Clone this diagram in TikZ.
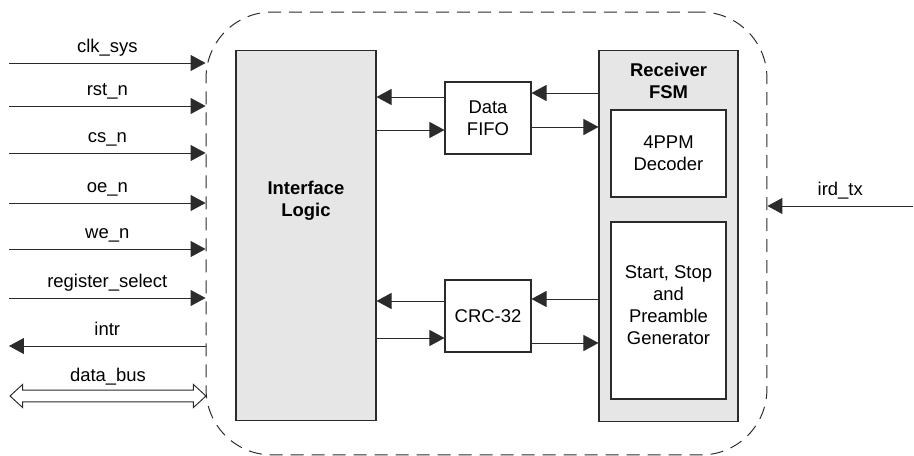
\documentclass[tikz,border=0pt]{standalone}
\usepackage{fontspec}
\setmainfont{Liberation Sans}
\usetikzlibrary{arrows.meta,positioning,shapes.arrows}
\definecolor{BoxGray}{HTML}{E6E6E7}
\definecolor{EdgeDark}{HTML}{2B2B2B}
\newcommand{\sigfont}{\fontsize{10.5}{12.5}\selectfont}
\tikzset{
  chipbox/.style={
    rectangle, rounded corners=1.32cm, draw=EdgeDark, line width=0.55pt,
    dash pattern=on 0.26cm off 0.16cm, minimum width=11.22cm, minimum height=8.86cm, inner sep=0
  },
  blockbox/.style={rectangle, draw=EdgeDark, fill=BoxGray, line width=0.6pt, inner sep=0},
  subbox/.style={rectangle, draw=EdgeDark, fill=white, line width=0.6pt, align=center, font=\sigfont, inner sep=0, minimum width=1.72cm, minimum height=1.44cm},
  sigarrow/.style={-{Triangle[length=0.3cm, width=0.32cm]}, EdgeDark, line width=0.55pt},
  siglabel/.style={midway, anchor=base, yshift=0.22cm, font=\sigfont, text=black},
  busarrow/.style={double arrow, draw=EdgeDark, fill=white, line width=0.55pt, inner xsep=0, inner ysep=0.11cm, minimum height=3.92cm, double arrow head extend=0.11cm, double arrow tip angle=85},
}

\begin{document}
\begin{tikzpicture}[x=0.02cm, y=-0.02cm]
    \useasboundingbox (0,0) rectangle (914,456);
    \node[chipbox] (chip) at (486.5,233.5) {};
    % blocks inside the core
    \node[blockbox, minimum width=2.8cm, minimum height=7.42cm] (iface) at (306,235.5) {};
    \node[font=\sigfont\bfseries, align=center] (ifacetxt) at (306,201) {Interface\\Logic};
    \node[blockbox, minimum width=2.78cm, minimum height=7.44cm] (rcv) at (668.5,236) {};
    \node[font=\sigfont\bfseries, align=center, below=0.14cm of rcv.north] (rcvtxt) {Receiver\\FSM};
    \node[subbox] (fifo) at (488,118) {Data\\FIFO};
    \node[subbox] (crc) at (488,316) {CRC-32};
    \node[subbox, minimum width=2.3cm, minimum height=1.74cm] (dec) at (668.5,153.5) {4PPM\\Decoder};
    \node[subbox, minimum width=2.3cm, minimum height=3.54cm, text depth=0.2cm] (gen) at (668.5,310.5) {Start, Stop\\and\\Preamble\\Generator};
    \draw[sigarrow] ([yshift=0.42cm]fifo.west) -- ([yshift=0.42cm]fifo.west -| iface.east);
    \draw[sigarrow] ([yshift=-0.24cm]fifo.west -| iface.east) -- ([yshift=-0.24cm]fifo.west);
    \draw[sigarrow] ([yshift=0.5cm]fifo.east -| rcv.west) -- ([yshift=0.5cm]fifo.east);
    \draw[sigarrow] ([yshift=-0.18cm]fifo.east) -- ([yshift=-0.18cm]fifo.east -| rcv.west);
    \draw[sigarrow] ([yshift=0.3cm]crc.west) -- ([yshift=0.3cm]crc.west -| iface.east);
    \draw[sigarrow] ([yshift=-0.44cm]crc.west -| iface.east) -- ([yshift=-0.44cm]crc.west);
    \draw[sigarrow] ([yshift=0.34cm]crc.east -| rcv.west) -- ([yshift=0.34cm]crc.east);
    \draw[sigarrow] ([yshift=-0.54cm]crc.east) -- ([yshift=-0.54cm]crc.east -| rcv.west);
    % pins
    \foreach \nm/\yy/\txt in {clk/63/clk\_sys, rst/106/rst\_n, cs/153/cs\_n, oe/203/oe\_n, we/249/we\_n, reg/298/register\_select} {
      \coordinate (in-\nm) at (9,\yy);
      \draw[sigarrow] (in-\nm) -- (in-\nm -| chip.west) node[siglabel] {\txt};
    }
    \coordinate (out-intr) at (9,346);
    \draw[sigarrow] (out-intr -| chip.west) -- (out-intr) node[siglabel] {intr};
    \node[busarrow] (bus) at (108,396) {};
    \node[font=\sigfont, above=-0.03cm of bus.north] (bustxt) {data\_bus};
    \coordinate (in-ird) at (913,206);
    \draw[sigarrow] (in-ird) -- (in-ird -| chip.east) node[siglabel] {ird\_tx};
  \end{tikzpicture}
\end{document}
